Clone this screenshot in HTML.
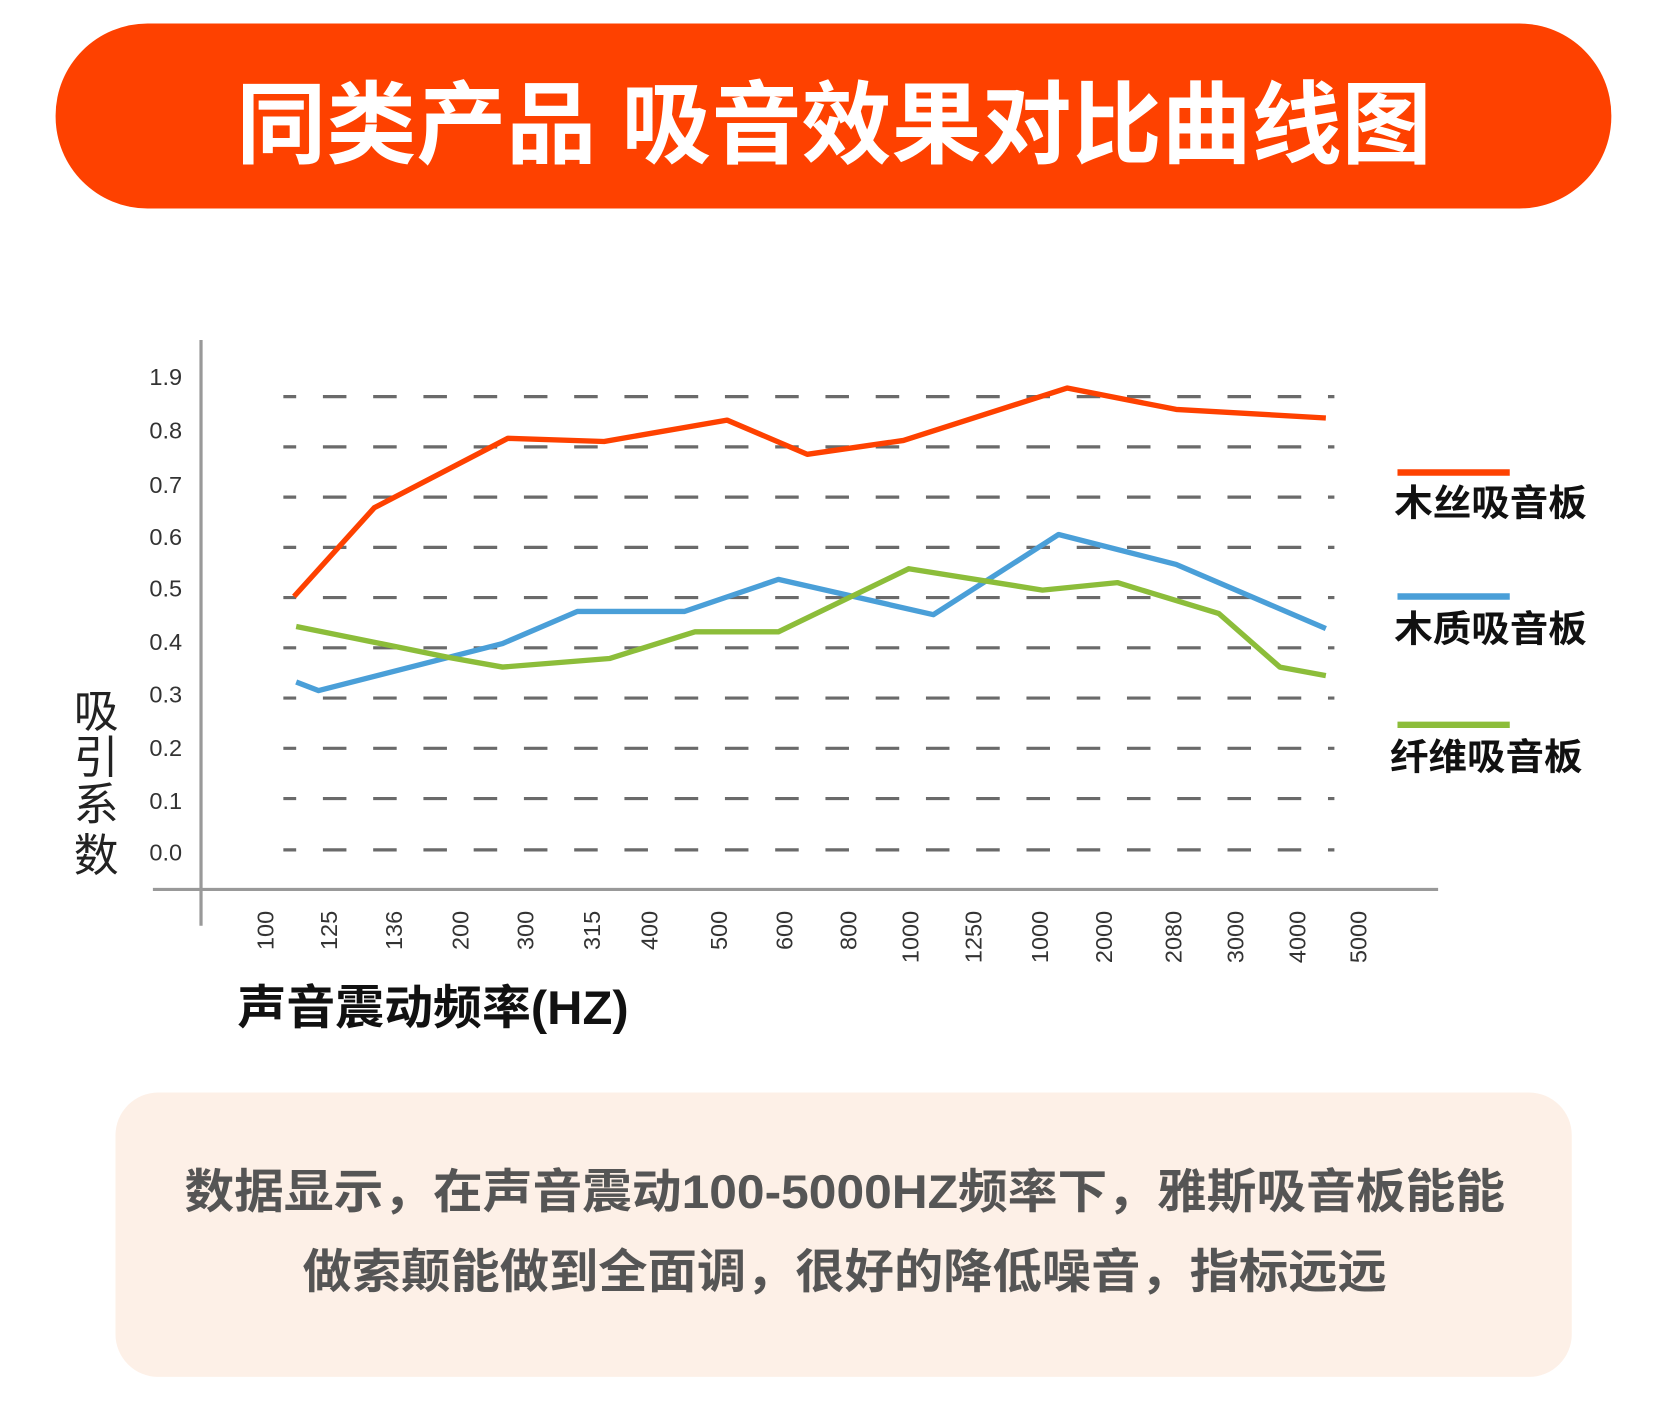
<!DOCTYPE html>
<html><head><meta charset="utf-8"><style>
html,body{margin:0;padding:0;background:#fff;}
svg{display:block;}
text{font-family:"Liberation Sans","Noto Sans CJK SC",sans-serif;}
</style></head><body>
<svg width="1668" height="1425" viewBox="0 0 1560 1333" preserveAspectRatio="none" xmlns="http://www.w3.org/2000/svg">
<rect x="0" y="0" width="1560" height="1333" fill="#fff"/>
<rect x="52" y="22" width="1455" height="173" rx="86" fill="#fe4100"/>
<text x="780" y="146" font-size="84" font-weight="bold" fill="#fff" text-anchor="middle" textLength="1118" lengthAdjust="spacingAndGlyphs">同类产品 吸音效果对比曲线图</text>

<g stroke="#6a6a6a" stroke-width="3" stroke-dasharray="22 25" stroke-dashoffset="10">
<line x1="265" y1="371" x2="1248" y2="371"/>
<line x1="265" y1="418" x2="1248" y2="418"/>
<line x1="265" y1="465" x2="1248" y2="465"/>
<line x1="265" y1="512" x2="1248" y2="512"/>
<line x1="265" y1="559" x2="1248" y2="559"/>
<line x1="265" y1="606" x2="1248" y2="606"/>
<line x1="265" y1="653" x2="1248" y2="653"/>
<line x1="265" y1="700" x2="1248" y2="700"/>
<line x1="265" y1="747" x2="1248" y2="747"/>
<line x1="265" y1="795" x2="1248" y2="795"/>
</g>
<line x1="188" y1="318" x2="188" y2="866" stroke="#999" stroke-width="3"/>
<line x1="143" y1="832" x2="1345" y2="832" stroke="#999" stroke-width="3"/>

<g font-size="22" fill="#333" text-anchor="middle">
<text x="155" y="360">1.9</text><text x="155" y="410">0.8</text><text x="155" y="461">0.7</text>
<text x="155" y="510">0.6</text><text x="155" y="558">0.5</text><text x="155" y="608">0.4</text>
<text x="155" y="657">0.3</text><text x="155" y="707">0.2</text><text x="155" y="757">0.1</text>
<text x="155" y="805">0.0</text>
</g>
<g font-size="42" fill="#222" text-anchor="middle">
<text x="90" y="680">吸</text><text x="90" y="723">引</text><text x="90" y="767">系</text><text x="90" y="815">数</text>
</g>
<g font-size="22" fill="#333" text-anchor="end">
<text transform="translate(256,852) rotate(-90)">100</text>
<text transform="translate(315,852) rotate(-90)">125</text>
<text transform="translate(376,852) rotate(-90)">136</text>
<text transform="translate(438,852) rotate(-90)">200</text>
<text transform="translate(499,852) rotate(-90)">300</text>
<text transform="translate(561,852) rotate(-90)">315</text>
<text transform="translate(615,852) rotate(-90)">400</text>
<text transform="translate(680,852) rotate(-90)">500</text>
<text transform="translate(741,852) rotate(-90)">600</text>
<text transform="translate(801,852) rotate(-90)">800</text>
<text transform="translate(859,852) rotate(-90)">1000</text>
<text transform="translate(918,852) rotate(-90)">1250</text>
<text transform="translate(980,852) rotate(-90)">1000</text>
<text transform="translate(1040,852) rotate(-90)">2000</text>
<text transform="translate(1105,852) rotate(-90)">2080</text>
<text transform="translate(1163,852) rotate(-90)">3000</text>
<text transform="translate(1221,852) rotate(-90)">4000</text>
<text transform="translate(1278,852) rotate(-90)">5000</text>
</g>
<text x="222" y="958" font-size="44" font-weight="bold" fill="#111" textLength="366" lengthAdjust="spacingAndGlyphs">声音震动频率(HZ)</text>

<g fill="none" stroke-width="5" stroke-linejoin="round">
<polyline stroke="#fe4100" points="275,558 350,475 475,410 565,413 680,393 755,425 845,412 998,363 1100,383 1240,391"/>
<polyline stroke="#4a9fd8" points="277,638 298,646 470,602 540,572 640,572 728,542 873,575 990,500 1100,528 1240,588"/>
<polyline stroke="#8cbd3a" points="277,586 420,615 470,624 570,616 650,591 728,591 850,532 975,552 1045,545 1140,574 1197,624 1240,632"/>
</g>
<g stroke-width="6">
<line x1="1307" y1="442" x2="1412" y2="442" stroke="#fe4100"/>
<line x1="1307" y1="558" x2="1412" y2="558" stroke="#4a9fd8"/>
<line x1="1307" y1="678" x2="1412" y2="678" stroke="#8cbd3a"/>
</g>
<g font-size="34" font-weight="bold" fill="#111">
<text x="1304" y="482" textLength="180" lengthAdjust="spacingAndGlyphs">木丝吸音板</text>
<text x="1304" y="600" textLength="180" lengthAdjust="spacingAndGlyphs">木质吸音板</text>
<text x="1300" y="720" textLength="180" lengthAdjust="spacingAndGlyphs">纤维吸音板</text>
</g>

<rect x="108" y="1022" width="1362" height="266" rx="40" fill="#fdf0e7"/>
<g font-size="44" font-weight="bold" fill="#555" text-anchor="middle">
<text x="790" y="1130" textLength="1235" lengthAdjust="spacingAndGlyphs">数据显示，在声音震动100-5000HZ频率下，雅斯吸音板能能</text>
<text x="790" y="1205" textLength="1014" lengthAdjust="spacingAndGlyphs">做索颠能做到全面调，很好的降低噪音，指标远远</text>
</g>
</svg>
</body></html>
